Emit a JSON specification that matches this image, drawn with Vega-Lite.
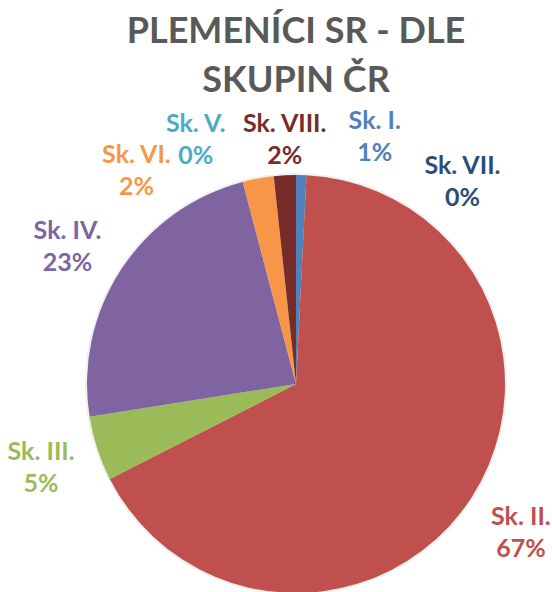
{
  "$schema": "https://vega.github.io/schema/vega-lite/v6.json",
  "autosize": "none",
  "width": 592,
  "height": 548,
  "padding": {"top": 110, "left": 0, "right": 0, "bottom": 0},
  "background": "white",
  "config": {"view": {"stroke": null}},
  "title": {
    "text": ["PLEMENÍCI SR - DLE", "SKUPIN ČR"],
    "font": "Lato",
    "fontSize": 36,
    "fontWeight": "bold",
    "color": "#595959",
    "lineHeight": 49,
    "anchor": "middle",
    "offset": 9
  },
  "data": {
    "values": [
      {"group": "Sk. I.", "order": 1, "share": 0.008},
      {"group": "Sk. II.", "order": 2, "share": 0.667},
      {"group": "Sk. III.", "order": 3, "share": 0.050},
      {"group": "Sk. IV.", "order": 4, "share": 0.234},
      {"group": "Sk. V.", "order": 5, "share": 0.000},
      {"group": "Sk. VI.", "order": 6, "share": 0.024},
      {"group": "Sk. VII.", "order": 7, "share": 0.000},
      {"group": "Sk. VIII.", "order": 8, "share": 0.017}
    ]
  },
  "layer": [
    {
      "data": {"values": [{"shadow": 1}]},
      "mark": {"type": "arc", "outerRadius": 211, "color": "#000000", "opacity": 0.06},
      "encoding": {}
    },
    {
      "mark": {"type": "arc", "outerRadius": 209},
      "encoding": {
        "theta": {"field": "share", "type": "quantitative", "stack": true},
        "order": {"field": "order", "type": "quantitative"},
        "color": {
          "field": "group",
          "type": "nominal",
          "scale": {
            "domain": ["Sk. I.", "Sk. II.", "Sk. III.", "Sk. IV.", "Sk. V.", "Sk. VI.", "Sk. VII.", "Sk. VIII."],
            "range": ["#4F81BD", "#C0504D", "#9BBB59", "#8064A2", "#4BACC6", "#F79646", "#2C4D75", "#772C2A"]
          },
          "legend": null
        }
      }
    },
    {
      "transform": [
        {"calculate": "[datum.group, format(datum.share, '.0%')]", "as": "label"}
      ],
      "mark": {
        "type": "text",
        "radius": 268,
        "font": "Lato",
        "fontSize": 25,
        "fontWeight": "bold",
        "lineHeight": 32,
        "align": "center",
        "baseline": "middle",
        "dx": {"expr": "datum.group === 'Sk. I.' ? 72 : datum.group === 'Sk. V.' ? -32 : datum.group === 'Sk. VI.' ? -111 : datum.group === 'Sk. VII.' ? 195 : datum.group === 'Sk. VIII.' ? 3 : datum.group === 'Sk. IV.' ? -4 : 0"},
        "dy": {"expr": "-15 + (datum.group === 'Sk. I.' ? 20 : datum.group === 'Sk. V.' ? 14 : datum.group === 'Sk. VI.' ? 50 : datum.group === 'Sk. VII.' ? 63 : datum.group === 'Sk. VIII.' ? 23 : datum.group === 'Sk. IV.' ? 8 : datum.group === 'Sk. II.' ? 2 : 0)"}
      },
      "encoding": {
        "theta": {"field": "share", "type": "quantitative", "stack": true},
        "order": {"field": "order", "type": "quantitative"},
        "text": {"field": "label"},
        "color": {"field": "group", "type": "nominal", "legend": null}
      }
    }
  ]
}
